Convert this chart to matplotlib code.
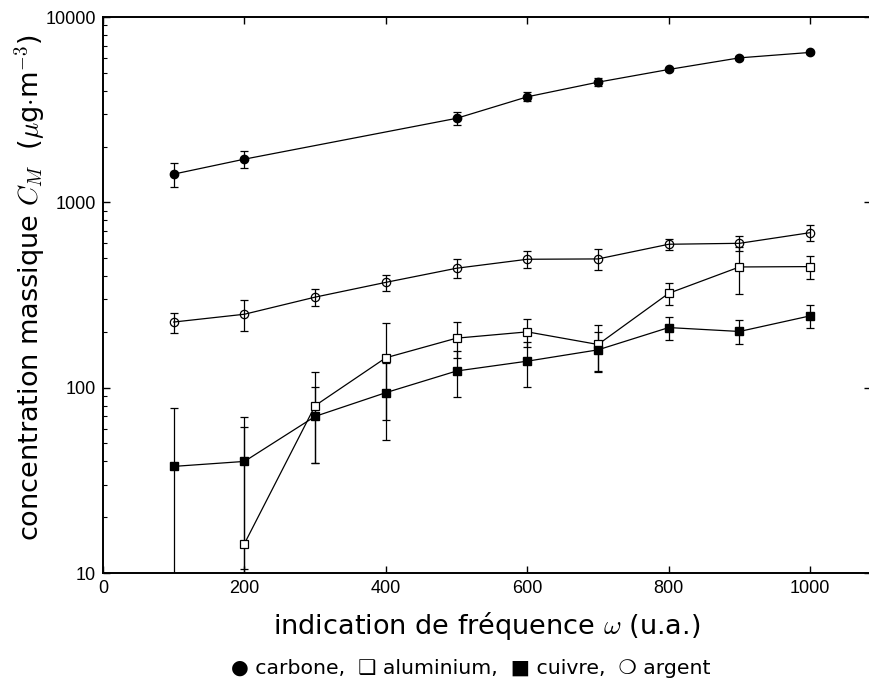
import numpy as np
import matplotlib.pyplot as plt

plt.rcParams["mathtext.fontset"] = "cm"

# carbone (filled circles)
x_carb = [100, 200, 500, 600, 700, 800, 900, 1000]
y_carb = [1420, 1710, 2840, 3710, 4450, 5210, 6020, 6440]
e_carb = [210, 180, 218, 208, 220, 100, 150, 120]

# aluminium (open squares)
x_alu = [200, 300, 400, 500, 600, 700, 800, 900, 1000]
y_alu = [14.4, 80, 145, 185, 200, 171, 323, 448, 450]
e_alu = [47, 41, 78, 40, 35, 48, 43, 129, 64]

# cuivre (filled squares)
x_cu = [100, 200, 300, 400, 500, 600, 700, 800, 900, 1000]
y_cu = [37.6, 40, 70, 94, 123, 139, 160, 211, 201, 244]
e_cu = [40, 29.5, 31, 42, 34, 37.6, 39, 31, 30, 34]

# argent (open circles)
x_ag = [100, 200, 300, 400, 500, 600, 700, 800, 900, 1000]
y_ag = [226, 249, 308, 370, 441, 493, 495, 594, 601, 686]
e_ag = [28, 48, 33, 36, 52, 53, 66, 43, 55, 66]

W, H = 869, 689
fig = plt.figure(figsize=(W/100, H/100), dpi=100)
ax = fig.add_axes([103/W, (H-573)/H, (871-103)/W, 556/H])

kw = dict(color="black", lw=0.9, elinewidth=0.9, capsize=3.2, capthick=0.9, ms=6)
ax.errorbar(x_carb, y_carb, yerr=e_carb, fmt="o-", mfc="black", **kw)
ax.errorbar(x_alu, y_alu, yerr=e_alu, fmt="s-", mfc="white", mew=0.9, **kw)
ax.errorbar(x_cu, y_cu, yerr=e_cu, fmt="s-", mfc="black", **kw)
ax.errorbar(x_ag, y_ag, yerr=e_ag, fmt="o-", mfc="none", mew=0.9, **kw)

ax.set_yscale("log")
ax.set_ylim(10, 10000)
ax.set_xlim(0, 1086)
ax.set_xticks([0, 200, 400, 600, 800, 1000])
ax.set_yticks([10, 100, 1000, 10000])
ax.set_yticklabels(["10", "100", "1000", "10000"])

for lab in ax.get_xticklabels() + ax.get_yticklabels():
    lab.set_family("Liberation Sans")
    lab.set_fontsize(13)

ax.tick_params(which="major", direction="in", length=5, width=1, top=True, right=True, pad=5)
ax.tick_params(which="minor", direction="in", length=3, width=0.8, top=False, right=False)
for s in ax.spines.values():
    s.set_linewidth(1.4)

ax.set_xlabel(r"indication de fréquence $\omega$ (u.a.)", fontsize=19.5, family="DejaVu Sans", va="top")
ax.xaxis.set_label_coords(0.5, -0.066)
ax.set_ylabel(r"concentration massique $C_M$  ($\mu$g$\cdot$m$^{-3}$)", fontsize=19.5, family="DejaVu Sans")
ax.yaxis.set_label_coords(-0.072, 0.513)

fig.text(471/W, 1-668/H, "● carbone,  ❑ aluminium,  ■ cuivre,  ❍ argent",
         ha="center", va="center", fontsize=14.7, family="DejaVu Sans")

fig.savefig("out.png", dpi=100)
